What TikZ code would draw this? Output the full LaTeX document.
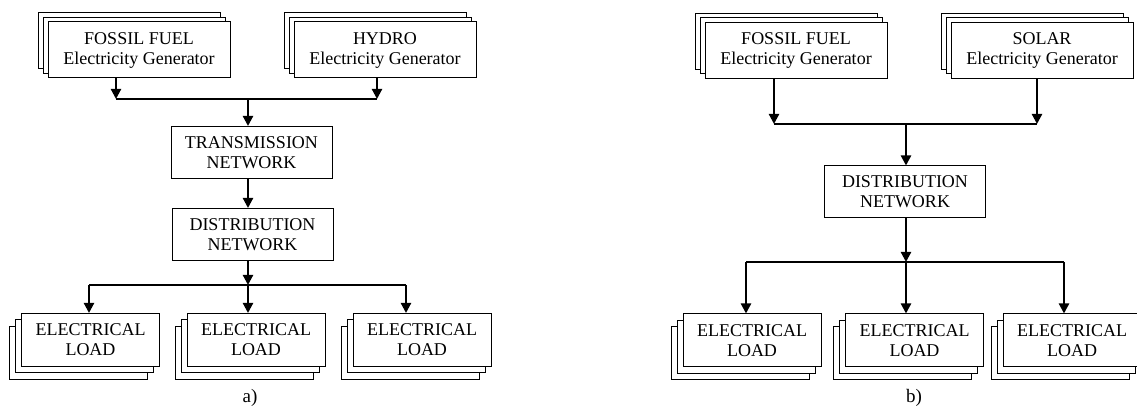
\documentclass[tikz,border=0pt]{standalone}
\usepackage{fontspec}
\setmainfont{Liberation Serif}
\usetikzlibrary{arrows.meta,shadows}

\begin{document}
\begin{tikzpicture}[x=0.5pt,y=-0.5pt,>={Triangle[length=5pt,width=5pt]},
  box/.style={draw,fill=white,line width=0.5pt,inner sep=0pt,align=center,font=\fontsize{9}{10}\selectfont},
  gen/.style={box,minimum width=91pt,minimum height=28pt,
    general shadow={shadow xshift=-5pt,shadow yshift=4.5pt,draw,fill=white},
    general shadow={shadow xshift=-2.5pt,shadow yshift=2.25pt,draw,fill=white}},
  net/.style={box,minimum width=80.5pt,minimum height=26pt},
  load/.style={box,minimum width=69pt,minimum height=26.5pt,
    general shadow={shadow xshift=-6pt,shadow yshift=-6.5pt,draw,fill=white},
    general shadow={shadow xshift=-3pt,shadow yshift=-3.25pt,draw,fill=white}},
  wire/.style={line width=1.1pt},
  feed/.style={wire,->},
  caption/.style={font=\fontsize{9.5}{11}\selectfont}]
\useasboundingbox (0,0) rectangle (1137,410);
% a) generators, transmission and distribution
\node[gen] (fosA) at (139,50) {FOSSIL FUEL\\Electricity Generator};
\node[gen] (hydA) at (385,50) {HYDRO\\Electricity Generator};
\node[net] (trnA) at (251.5,152.5) {TRANSMISSION\\NETWORK};
\node[net] (disA) at (252.5,234.5) {DISTRIBUTION\\NETWORK};
\node[load] (ldA1) at (90.5,340) {ELECTRICAL\\LOAD};
\node[load] (ldA2) at (256,340) {ELECTRICAL\\LOAD};
\node[load] (ldA3) at (422,340) {ELECTRICAL\\LOAD};
\coordinate (jA1) at (116,99); \coordinate (jA2) at (377,99); \coordinate (jA0) at (248,99);
\coordinate (kA1) at (89,285); \coordinate (kA3) at (406,285); \coordinate (kA0) at (248,285);
\draw[feed] (fosA.south -| jA1) -- (jA1);
\draw[feed] (hydA.south -| jA2) -- (jA2);
\draw[wire] (jA1) -- (jA2);
\draw[feed] (jA0) -- (jA0 |- trnA.north);
\draw[feed] (trnA.south -| jA0) -- (jA0 |- disA.north);
\draw[feed] (disA.south -| kA0) -- (kA0);
\draw[wire] (kA1) -- (kA3);
\draw[feed] (kA1) -- (kA1 |- ldA1.north);
\draw[feed] (kA0) -- (kA0 |- ldA2.north);
\draw[feed] (kA3) -- (kA3 |- ldA3.north);
\node[caption] (capA) at (250,398) {a)};
% b) generators feeding the distribution network only
\node[gen] (fosB) at (796,50.5) {FOSSIL FUEL\\Electricity Generator};
\node[gen] (solB) at (1042,50.5) {SOLAR\\Electricity Generator};
\node[net] (disB) at (905,192) {DISTRIBUTION\\NETWORK};
\node[load] (ldB1) at (752,340.5) {ELECTRICAL\\LOAD};
\node[load] (ldB2) at (914.5,340.5) {ELECTRICAL\\LOAD};
\node[load] (ldB3) at (1072,340.5) {ELECTRICAL\\LOAD};
\coordinate (jB1) at (774,124); \coordinate (jB2) at (1037,124); \coordinate (jB0) at (906,124);
\coordinate (kB1) at (746,262); \coordinate (kB3) at (1064,262); \coordinate (kB0) at (906,262);
\draw[feed] (fosB.south -| jB1) -- (jB1);
\draw[feed] (solB.south -| jB2) -- (jB2);
\draw[wire] (jB1) -- (jB2);
\draw[feed] (jB0) -- (jB0 |- disB.north);
\draw[feed] (disB.south -| kB0) -- (kB0);
\draw[wire] (kB1) -- (kB3);
\draw[feed] (kB1) -- (kB1 |- ldB1.north);
\draw[feed] (kB0) -- (kB0 |- ldB2.north);
\draw[feed] (kB3) -- (kB3 |- ldB3.north);
\node[caption] (capB) at (914,398) {b)};
\end{tikzpicture}
\end{document}
